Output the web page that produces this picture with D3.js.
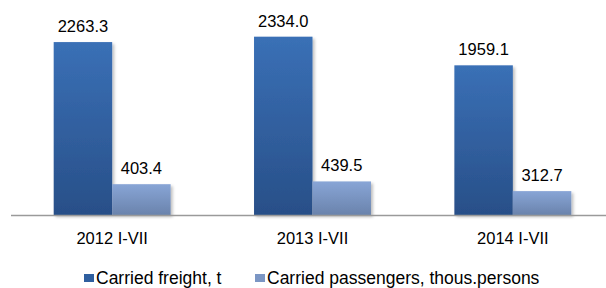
<!DOCTYPE html>
<html>
<head>
<meta charset="utf-8">
<script src="https://cdn.jsdelivr.net/npm/d3@7"></script>
<style>
  body { margin: 0; background: #fff; }
  text { font-family: Arial, "Liberation Sans", sans-serif; fill: #000; }
</style>
</head>
<body>
<div id="chart"></div>
<script>
var svgWidth = 606;
var svgHeight = 288;

// chart data
var categories = ["2012 I-VII", "2013 I-VII", "2014 I-VII"];
var seriesNames = ["Carried freight, t", "Carried passengers, thous.persons"];
var freight = [2263.3, 2334.0, 1959.1];
var passengers = [403.4, 439.5, 312.7];

var plot = { left: 12, right: 613, top: 24, bottom: 215 };

var svg = d3.select("#chart")
  .append("svg")
  .attr("width", svgWidth)
  .attr("height", svgHeight);

var defs = svg.append("defs");

function gradient(id, top, bottom) {
  var g = defs.append("linearGradient")
    .attr("id", id)
    .attr("x1", 0).attr("y1", 0)
    .attr("x2", 0).attr("y2", 1);
  g.append("stop").attr("offset", "0%").attr("stop-color", top);
  g.append("stop").attr("offset", "100%").attr("stop-color", bottom);
}
gradient("gFreight", "#3a70b6", "#284f88");
gradient("gPass", "#88a5d6", "#6a83ac");

var shadow = defs.append("filter")
  .attr("id", "shadow")
  .attr("x", "-10%").attr("y", "-10%")
  .attr("width", "130%").attr("height", "130%");
shadow.append("feDropShadow")
  .attr("dx", 2).attr("dy", 2)
  .attr("stdDeviation", 1.5)
  .attr("flood-color", "#000")
  .attr("flood-opacity", 0.25);

var x0 = d3.scaleBand()
  .domain(categories)
  .range([plot.left, plot.right])
  .padding(0);

var x1 = d3.scaleBand()
  .domain([0, 1])
  .range([0, x0.bandwidth()])
  .paddingInner(0)
  .paddingOuter(0.713);

var y = d3.scaleLinear()
  .domain([0, 2500])
  .range([plot.bottom, plot.top]);

var fills = ["url(#gFreight)", "url(#gPass)"];
var legendColors = ["#2f5f9f", "#7b96c4"];

var rows = categories.map(function(c, i) {
  return { cat: c, values: [freight[i], passengers[i]] };
});

var groups = svg.selectAll(".grp")
  .data(rows)
  .enter()
  .append("g")
  .attr("class", "grp")
  .attr("transform", d => `translate(${x0(d.cat)},0)`);

groups.selectAll("rect")
  .data(d => d.values.map((v, k) => ({ k: k, v: v })))
  .enter()
  .append("rect")
  .attr("x", d => x1(d.k))
  .attr("y", d => y(d.v))
  .attr("width", x1.bandwidth())
  .attr("height", d => y(0) - y(d.v))
  .attr("fill", d => fills[d.k])
  .attr("filter", "url(#shadow)");

groups.selectAll(".val")
  .data(d => d.values.map((v, k) => ({ k: k, v: v })))
  .enter()
  .append("text")
  .attr("class", "val")
  .attr("x", d => x1(d.k) + x1.bandwidth() / 2)
  .attr("y", d => y(d.v) - 10)
  .attr("text-anchor", "middle")
  .style("font-size", "16.5px")
  .text(d => d.v.toFixed(1));

// x axis line
svg.append("line")
  .attr("x1", 11)
  .attr("x2", svgWidth)
  .attr("y1", y(0) + 0.5)
  .attr("y2", y(0) + 0.5)
  .attr("stroke", "#9a9a9a")
  .attr("stroke-width", 1.5);

// category labels
svg.selectAll(".cat")
  .data(categories)
  .enter()
  .append("text")
  .attr("class", "cat")
  .attr("x", d => x0(d) + x0.bandwidth() / 2)
  .attr("y", 244)
  .attr("text-anchor", "middle")
  .style("font-size", "16.5px")
  .text(d => d);

// legend
var legendX = [84, 255];
var legend = svg.selectAll(".leg")
  .data(seriesNames)
  .enter()
  .append("g")
  .attr("class", "leg")
  .attr("transform", (d, i) => `translate(${legendX[i]},0)`);

legend.append("rect")
  .attr("x", 0)
  .attr("y", 274)
  .attr("width", 10)
  .attr("height", 8)
  .attr("fill", (d, i) => legendColors[i]);

legend.append("text")
  .attr("x", 12)
  .attr("y", 284)
  .style("font-size", "17.5px")
  .text(d => d);
</script>
</body>
</html>
